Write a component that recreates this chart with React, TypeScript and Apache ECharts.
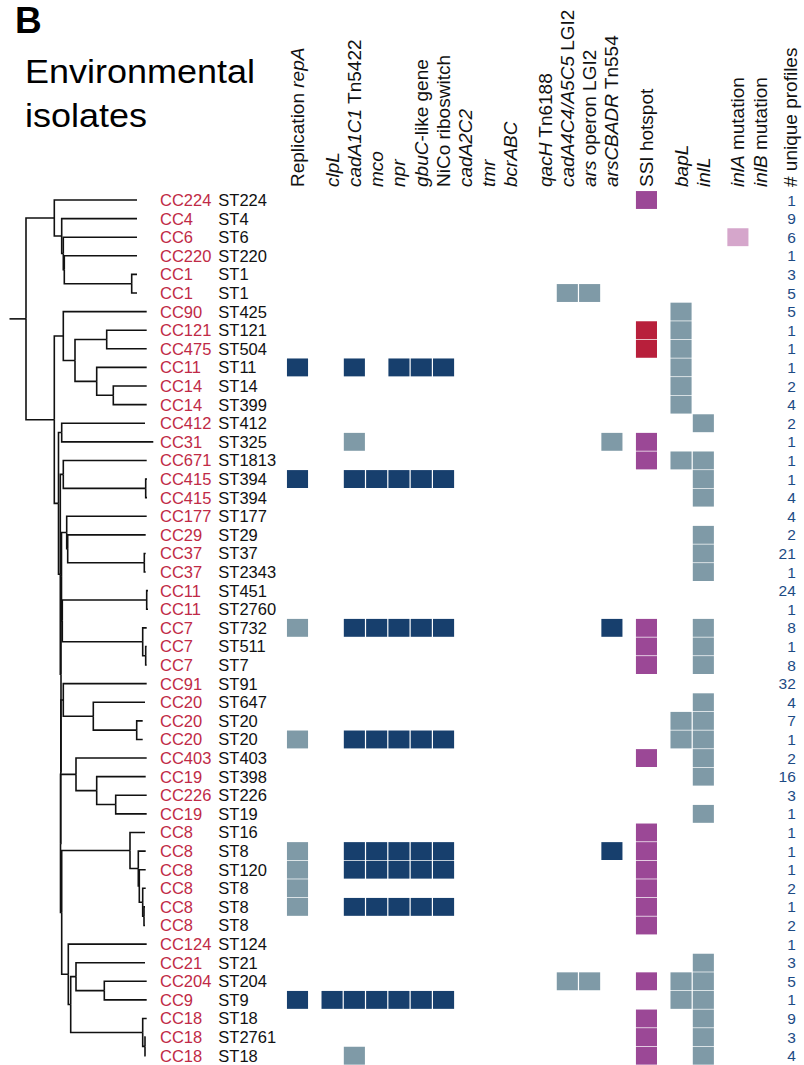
import { useEffect, useRef } from 'react';
import * as echarts from 'echarts';

const FONT = '"Liberation Sans", Arial, Helvetica, sans-serif';

const ccLabels = ['CC224','CC4','CC6','CC220','CC1','CC1','CC90','CC121','CC475','CC11','CC14','CC14','CC412','CC31','CC671','CC415','CC415','CC177','CC29','CC37','CC37','CC11','CC11','CC7','CC7','CC7','CC91','CC20','CC20','CC20','CC403','CC19','CC226','CC19','CC8','CC8','CC8','CC8','CC8','CC8','CC124','CC21','CC204','CC9','CC18','CC18','CC18'];
const stLabels = ['ST224','ST4','ST6','ST220','ST1','ST1','ST425','ST121','ST504','ST11','ST14','ST399','ST412','ST325','ST1813','ST394','ST394','ST177','ST29','ST37','ST2343','ST451','ST2760','ST732','ST511','ST7','ST91','ST647','ST20','ST20','ST403','ST398','ST226','ST19','ST16','ST8','ST120','ST8','ST8','ST8','ST124','ST21','ST204','ST9','ST18','ST2761','ST18'];
const uniqueProfiles = [1,9,6,1,3,5,5,1,1,1,2,4,2,1,1,1,4,4,2,21,1,24,1,8,1,8,32,4,7,1,2,16,3,1,1,1,1,2,1,2,1,3,5,1,9,3,4];

const columnHeaders = [
  'Replication {i|repA}', '{i|clpL}', '{i|cadA1C1} Tn5422', '{i|mco}', '{i|npr}', '{i|gbuC}-like gene',
  'NiCo riboswitch', '{i|cadA2C2}', '{i|tmr}', '{i|bcrABC}', '{i|qacH} Tn6188', '{i|cadA4C4/A5C5} LGI2',
  '{i|ars} operon LGI2', '{i|arsCBADR} Tn554', 'SSI hotspot', '{i|bapL}', '{i|inlL}', '{i|inlA} mutation',
  '{i|inlB} mutation', '# unique profiles'
];
const columnGroup = [0,1,1,1,1,1,1,1,1,1,2,2,2,2,3,4,4,5,5,6];

// N navy = present, G grey = variant, P purple, R red, K pink, . absent
// repA clpL cadA1C1 mco npr gbuC NiCo cadA2C2 tmr bcrABC qacH cadA4C4 ars arsCBADR SSI bapL inlL inlA inlB
const profileRows = [
  '..............P....',
  '...................',
  '.................K.',
  '...................',
  '...................',
  '...........GG......',
  '...............G...',
  '..............RG...',
  '..............RG...',
  'N.N.NNN........G...',
  '...............G...',
  '...............G...',
  '................G..',
  '..G..........GP....',
  '..............PGG..',
  'N.NNNNN.........G..',
  '................G..',
  '...................',
  '................G..',
  '................G..',
  '................G..',
  '...................',
  '...................',
  'G.NNNNN......NP.G..',
  '..............P.G..',
  '..............P.G..',
  '...................',
  '................G..',
  '...............GG..',
  'G.NNNNN........GG..',
  '..............P.G..',
  '................G..',
  '...................',
  '................G..',
  '..............P....',
  'G.NNNNN......NP....',
  'G.NNNNN.......P....',
  'G.............P....',
  'G.NNNNN.......P....',
  '..............P....',
  '...................',
  '................G..',
  '...........GG.PGG..',
  'NNNNNNN........GG..',
  '..............P.G..',
  '..............P.G..',
  '..G...........P.G..',
];
const stateKeys = 'NGPRK';
const stateColors = ['#173F6D', '#7F9AA7', '#9B4896', '#B81F3B', '#D5A6CB'];

type TreeNode = number | { x: number; kids: TreeNode[] };
const n = (x: number, ...kids: TreeNode[]): TreeNode => ({ x, kids });

// dendrogram: internal nodes carry their depth, leaves carry their tip depth
const rootStart = 9.5;
const tree: TreeNode = n(26,
  n(54.3, 137, n(61.7, 137, n(63.3, 137, n(64.3, 137, n(131.7, 137, 137))))),
  n(54.3,
    n(63.3, 146.7, n(75, n(106.7, 146.7, 146.7), n(96.7, 146.7, n(113.3, 146.7, 146.7)))),
    n(58.5,
      n(61.7, 145, 153.3),
      n(60.3,
        n(63.3, 146.7, n(145.7, 147, 147)),
        n(61,
          n(61.5,
            n(66.7, 146.7, n(67.7, 145.7, n(144.3, 145.7, 145.7))),
            n(62.3, n(146.7, 148, 148), n(142.7, 146.7, n(145.7, 146.7, 146.7)))
          ),
          n(60.8,
            n(63.3, 146.7, n(93.3, 145, n(136.7, 142.7, 142.7))),
            n(60.5,
              n(76, 146.7, n(96.7, 145.7, n(115.7, 146.7, 146.7))),
              n(61.7,
                n(130, 145, n(138.3, 145.7, n(139.3, 145.7, n(142.7, 145.7, n(144, 145, 145))))),
                n(68.3, 146.7, n(70.7, n(76, 145, n(104.3, 146.7, 146.7)), n(142.7, 146.7, n(145, 145.7, 145.7))))
              )
            )
          )
        )
      )
    )
  )
);

const GAP = 0.55;
const colPos = (i: number) => i + columnGroup[i] * GAP;

export default function App() {
  const ref = useRef<HTMLDivElement>(null);
  useEffect(() => {
    if (!ref.current) return;
    const chart = echarts.init(ref.current, undefined, { renderer: 'svg' });

    const segments: number[][] = [];
    let leafIndex = 0;
    const place = (node: TreeNode): { x: number; y: number } => {
      if (typeof node === 'number') return { x: node, y: leafIndex++ };
      const kids = node.kids.map(place);
      const y = kids.reduce((s, k) => s + k.y, 0) / kids.length;
      kids.forEach((k) => segments.push([node.x, y, node.x, k.y, k.x, k.y]));
      return { x: node.x, y };
    };
    const rootPos = place(tree);
    segments.push([rootStart, rootPos.y, rootPos.x, rootPos.y, rootPos.x, rootPos.y]);

    const cells: number[][] = [];
    profileRows.forEach((row, r) =>
      row.split('').forEach((ch, c) => {
        const s = stateKeys.indexOf(ch);
        if (s >= 0) cells.push([colPos(c), r, s]);
      })
    );
    const countCol = columnHeaders.length - 1;

    const top = 190.7;
    const height = 874.7;

    chart.setOption({
      animation: false,
      grid: [
        { left: 0, top, width: 804, height },
        { left: 286.35, top, width: 485, height },
      ],
      xAxis: [
        { type: 'value', gridIndex: 0, min: 0, max: 804, show: false },
        { type: 'value', gridIndex: 1, min: -0.5, max: 21.25, show: false },
      ],
      yAxis: [
        { type: 'value', gridIndex: 0, min: -0.5, max: 46.5, inverse: true, show: false },
        { type: 'value', gridIndex: 1, min: -0.5, max: 46.5, inverse: true, show: false },
      ],
      graphic: [
        { type: 'text', x: 15, y: 20, style: { text: 'B', fontSize: 37, fontWeight: 'bold', fontFamily: FONT, fill: '#000', verticalAlign: 'middle' } },
        { type: 'text', x: 25, y: 72, scaleY: 0.9, style: { text: 'Environmental', fontSize: 36, fontFamily: FONT, fill: '#000', verticalAlign: 'middle' } },
        { type: 'text', x: 25, y: 116, scaleY: 0.9, style: { text: 'isolates', fontSize: 36, fontFamily: FONT, fill: '#000', verticalAlign: 'middle' } },
      ],
      series: [
        {
          type: 'custom',
          xAxisIndex: 0,
          yAxisIndex: 0,
          data: segments,
          silent: true,
          renderItem: (_p: any, api: any) => {
            const p0 = api.coord([api.value(0), api.value(1)]);
            const p1 = api.coord([api.value(2), api.value(3)]);
            const p2 = api.coord([api.value(4), api.value(5)]);
            return {
              type: 'polyline',
              shape: { points: [p0, p1, p2] },
              style: { stroke: '#111', lineWidth: 1.6, fill: 'none' },
            };
          },
        },
        {
          type: 'custom',
          xAxisIndex: 0,
          yAxisIndex: 0,
          data: ccLabels.map((_, i) => [i]),
          silent: true,
          renderItem: (_p: any, api: any) => {
            const r = api.value(0);
            const a = api.coord([160, r]);
            const b = api.coord([218.3, r]);
            return {
              type: 'group',
              children: [
                { type: 'text', x: a[0], y: a[1], style: { text: ccLabels[r], fill: '#BF2A46', fontSize: 16.5, fontFamily: FONT, align: 'left', verticalAlign: 'middle' } },
                { type: 'text', x: b[0], y: b[1], style: { text: stLabels[r], fill: '#111', fontSize: 16.5, fontFamily: FONT, align: 'left', verticalAlign: 'middle' } },
              ],
            };
          },
        },
        {
          type: 'custom',
          xAxisIndex: 1,
          yAxisIndex: 1,
          data: cells,
          silent: true,
          renderItem: (_p: any, api: any) => {
            const c = api.coord([api.value(0), api.value(1)]);
            const s = api.size([1, 1]);
            const w = s[0] - 1.2;
            const h = s[1] - 0.7;
            return {
              type: 'rect',
              shape: { x: c[0] - w / 2, y: c[1] - h / 2, width: w, height: h },
              style: { fill: stateColors[api.value(2)] },
            };
          },
        },
        {
          type: 'custom',
          xAxisIndex: 1,
          yAxisIndex: 1,
          data: uniqueProfiles.map((v, i) => [colPos(countCol), i, v]),
          silent: true,
          renderItem: (_p: any, api: any) => {
            const c = api.coord([api.value(0), api.value(1)]);
            return {
              type: 'text',
              x: c[0] + 1,
              y: c[1],
              style: { text: String(api.value(2)), fill: '#1D4B84', fontSize: 15.5, fontFamily: FONT, align: 'right', verticalAlign: 'middle' },
            };
          },
        },
        {
          type: 'custom',
          xAxisIndex: 1,
          yAxisIndex: 1,
          data: columnHeaders.map((_, i) => [i === countCol ? colPos(i) - 0.2 : colPos(i), i]),
          silent: true,
          renderItem: (_p: any, api: any) => {
            const c = api.coord([api.value(0), -0.5]);
            const idx = api.value(1);
            return {
              type: 'text',
              x: c[0],
              y: c[1] - 3.7,
              rotation: Math.PI / 2,
              style: {
                text: columnHeaders[idx],
                fill: '#111',
                fontSize: 19,
                fontFamily: FONT,
                align: 'left',
                verticalAlign: 'middle',
                rich: { i: { fontStyle: 'italic', fontSize: 19, fontFamily: FONT, fill: '#111' } },
              },
            };
          },
        },
      ],
    });
    return () => chart.dispose();
  }, []);
  return <div ref={ref} style={{ position: 'absolute', left: 0, top: 0, width: 804, height: 1065 }} />;
}
